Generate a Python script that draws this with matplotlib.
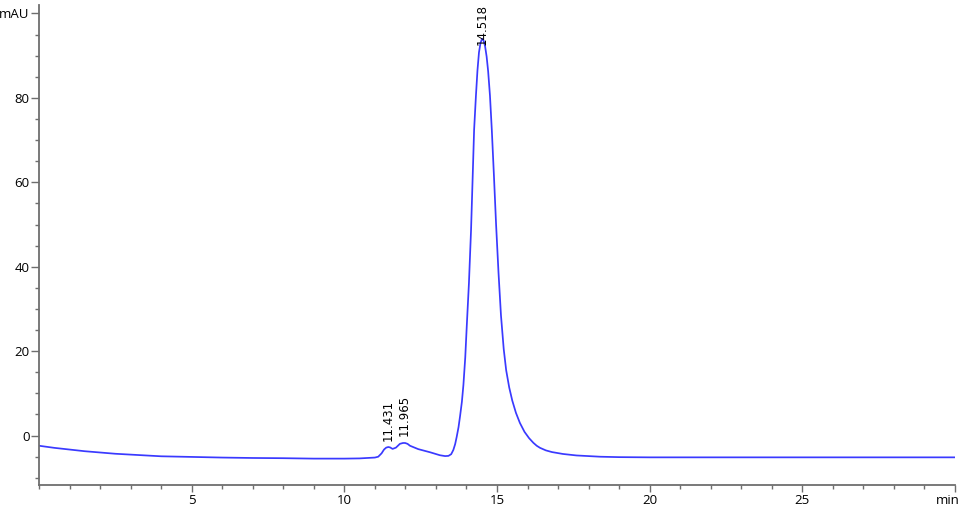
import matplotlib
matplotlib.use("Agg")
import matplotlib.pyplot as plt
import matplotlib.transforms as mtransforms
from matplotlib.ticker import MultipleLocator, FixedLocator, FixedFormatter

# --- data (time in min, signal in mAU) ---
time_min = [0, 0.5, 1, 1.5, 2, 2.5, 3, 3.5, 4, 5, 6, 7, 8, 9, 10, 10.5, 11.0, 11.11,
            11.22, 11.30, 11.37, 11.44, 11.50, 11.58, 11.69, 11.82, 11.92, 11.99, 12.07,
            12.15, 12.42, 12.81, 13.13, 13.30, 13.41, 13.50, 13.57, 13.63, 13.68, 13.74,
            13.79, 13.85, 13.90, 13.96, 14.01, 14.08, 14.15, 14.20, 14.25, 14.31, 14.36,
            14.41, 14.46, 14.51, 14.56, 14.61, 14.66, 14.71, 14.77, 14.83, 14.90, 14.97,
            15.05, 15.13, 15.22, 15.30, 15.40, 15.50, 15.62, 15.75, 15.90, 16.05, 16.19,
            16.30, 16.41, 16.60, 16.80, 17.16, 17.60, 18.38, 19, 20, 22, 25, 28, 30]
signal_mau = [-2.4, -2.9, -3.3, -3.7, -4.0, -4.3, -4.5, -4.7, -4.9, -5.05, -5.2, -5.3,
              -5.35, -5.45, -5.45, -5.4, -5.2, -5.0,
              -4.2, -3.3, -2.85, -2.7, -2.8, -3.15, -2.85, -1.95, -1.75, -1.75, -1.95,
              -2.4, -3.2, -3.95, -4.65, -4.85, -4.8, -4.4, -3.4, -2.0, -0.3, 2.0,
              4.6, 8.0, 12.0, 18.5, 26.0, 36.0, 48.7, 60.5, 72.4, 80.5, 86.5,
              90.8, 93.0, 94.0, 93.6, 92.2, 89.8, 86.3, 80.5, 72.4, 61.5, 50.0,
              38.5, 28.5, 20.5, 15.5, 11.4, 8.3, 5.4, 3.0, 0.9, -0.6, -1.7,
              -2.4, -2.9, -3.5, -3.9, -4.35, -4.7, -5.0, -5.1, -5.15, -5.15, -5.15, -5.15, -5.15]

peak_labels = ["11.431", "11.965", "14.518"]
peak_times = [11.431, 11.965, 14.518]
peak_heights = [-2.7, -1.75, 94.0]

x_major = [5, 10, 15, 20, 25, 30]
x_major_labels = ["5", "10", "15", "20", "25", "min"]
y_major = [0, 20, 40, 60, 80, 100]
y_major_labels = ["0", "20", "40", "60", "80", "mAU"]

# --- figure ---
fig = plt.figure(figsize=(9.6, 5.08), dpi=100)
ax = fig.add_axes([39 / 960, 23 / 508, (955 - 39) / 960, (485 - 5) / 508])

ax.plot(time_min, signal_mau, color="#3a3aff", lw=1.25, solid_joinstyle="round")

ax.set_xlim(0, 30)
ax.set_ylim(-11.7, 102)

label_offsets = [4, 5, -4.5]
for lab, t, h, off in zip(peak_labels, peak_times, peak_heights, label_offsets):
    ax.annotate(lab, xy=(t, h), xytext=(0, off), textcoords="offset points",
                rotation=90, ha="center", va="bottom", fontsize=8.5, color="black",
                family="DejaVu Sans")

ax.xaxis.set_major_locator(FixedLocator(x_major))
ax.xaxis.set_major_formatter(FixedFormatter(x_major_labels))
ax.xaxis.set_minor_locator(MultipleLocator(1))
ax.yaxis.set_major_locator(FixedLocator(y_major))
ax.yaxis.set_major_formatter(FixedFormatter(y_major_labels))
ax.yaxis.set_minor_locator(MultipleLocator(5))

spine_col = "#6e6e6e"
for s in ["top", "right"]:
    ax.spines[s].set_visible(False)
for s in ["left", "bottom"]:
    ax.spines[s].set_color(spine_col)
    ax.spines[s].set_linewidth(1.3)

ax.tick_params(axis="x", which="major", length=5.0, width=1.0, color=spine_col,
               labelsize=9.5, labelcolor="black", direction="out", pad=1.5)
ax.tick_params(axis="y", which="major", length=5.5, width=1.0, color=spine_col,
               labelsize=9.5, labelcolor="black", direction="out", pad=1.2)
ax.tick_params(axis="both", which="minor", length=2.8, width=1.0, color=spine_col,
               direction="out")
for lbl in ax.get_xticklabels() + ax.get_yticklabels():
    lbl.set_family("Open Sans")

# keep the "min" unit label inside the figure edge
fig.canvas.draw()
min_lbl = ax.get_xticklabels()[-1]
min_lbl.set_transform(min_lbl.get_transform() +
                      mtransforms.ScaledTranslation(-7 / 100, 0, fig.dpi_scale_trans))

fig.savefig("out.png", dpi=100)
